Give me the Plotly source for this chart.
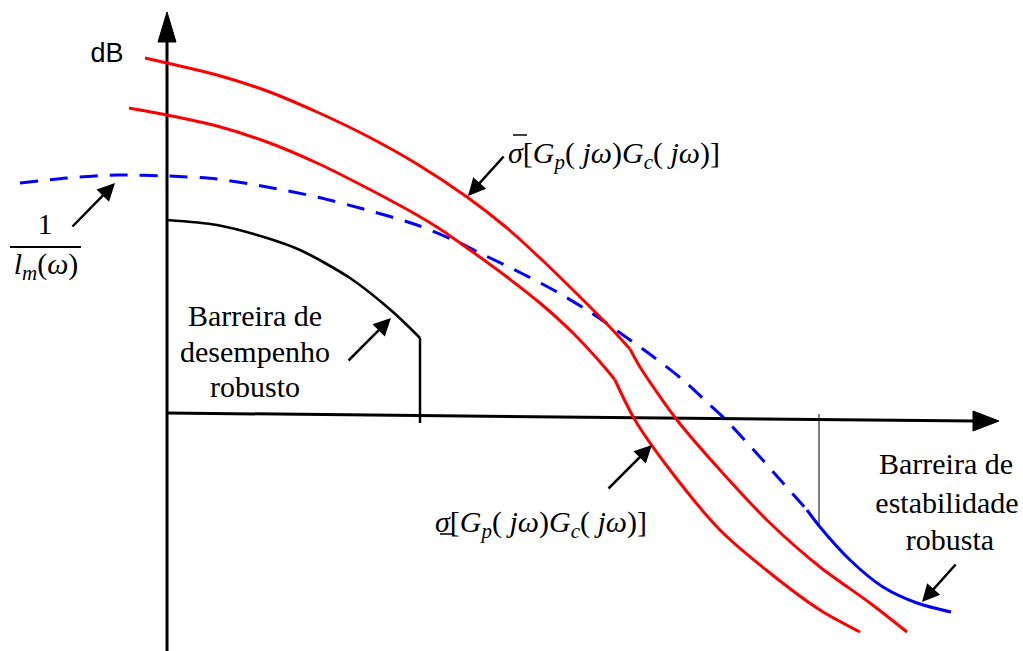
import plotly.graph_objects as go

# Diagram space: x grows to the right (frequency), y grows downward (drawing units).
W, H = 1023, 651

# Singular value curves of the loop G_p(jw)G_c(jw)
sigma_max_a_x = [145, 167, 217, 267, 317, 367, 417, 467, 507, 540, 573, 607, 630]
sigma_max_a_y = [58, 63, 75, 91, 112, 136, 164, 197, 228, 258, 290, 324, 349]
sigma_max_b_x = [630, 640, 677, 720, 770, 820, 870, 907]
sigma_max_b_y = [349, 367, 420, 470, 523, 567, 603, 632]

sigma_min_a_x = [129, 167, 217, 267, 317, 367, 417, 440, 470, 507, 540, 573, 607, 615]
sigma_min_a_y = [108, 115, 126, 142, 163, 188, 215, 229, 250, 277, 303, 333, 370, 380]
sigma_min_b_x = [615, 635, 670, 720, 770, 820, 860]
sigma_min_b_y = [380, 420, 470, 530, 573, 610, 632]

# 1/l_m(w) bound (dashed) and the robust-stability barrier (solid part)
inv_lm_x = [20, 67, 117, 167, 217, 267, 317, 367, 417, 460, 480, 523, 557, 590,
            623, 655, 683, 710, 725, 760, 783, 807]
inv_lm_y = [183, 178, 175, 176, 179, 187, 197, 210, 225, 243, 253, 274, 292, 312,
            335, 358, 380, 405, 419, 457, 483, 510]
stab_x = [807, 820, 850, 883, 917, 951]
stab_y = [510, 527, 560, 587, 603, 612]

# Robust-performance barrier
perf_x = [167, 217, 267, 300, 350, 393, 420]
perf_y = [220, 225, 238, 250, 278, 312, 338]
perf_drop_x = [420, 420]
perf_drop_y = [338, 423]

# Frequency marker separating the stability barrier
marker_x = [819, 819]
marker_y = [414, 526]

# Axes (origin, ends)
h_axis_x = [167, 975]
h_axis_y = [413, 421]
v_axis_x = [167, 167]
v_axis_y = [651, 40]

RED = "#ff0000"
BLUE = "#0000ff"
BLACK = "#000000"
SERIF = "Liberation Serif"
SANS = "Liberation Sans"

fig = go.Figure()


def add_line(x, y, color, width, dash="solid", shape="spline"):
    fig.add_trace(go.Scatter(
        x=x, y=y, mode="lines",
        line=dict(color=color, width=width, dash=dash, shape=shape, smoothing=0.8),
        hoverinfo="skip", showlegend=False))


def add_head(x, y):
    fig.add_trace(go.Scatter(
        x=x, y=y, mode="lines", fill="toself", fillcolor=BLACK,
        line=dict(color=BLACK, width=1), hoverinfo="skip", showlegend=False))


def add_text(x, y, text, size=30, family=SERIF, position="middle center"):
    fig.add_trace(go.Scatter(
        x=[x], y=[y], mode="text", text=[text], textposition=position,
        textfont=dict(family=family, size=size, color=BLACK),
        hoverinfo="skip", showlegend=False))


# Axes
add_line(h_axis_x, h_axis_y, BLACK, 3, shape="linear")
add_line(v_axis_x, v_axis_y, BLACK, 3, shape="linear")

# Axis arrowheads
hx, hy = h_axis_x[1], h_axis_y[1]
add_head([hx - 2, hx + 24, hx - 2, hx - 2], [hy - 10, hy, hy + 10, hy - 10])
vx, vy = v_axis_x[1], v_axis_y[1]
add_head([vx - 9, vx, vx + 9, vx - 9], [vy + 2, vy - 28, vy + 2, vy + 2])

# Curves
add_line(perf_x, perf_y, BLACK, 2.7)
add_line(perf_drop_x, perf_drop_y, BLACK, 2.5, shape="linear")
add_line(marker_x, marker_y, BLACK, 1, shape="linear")
add_line(inv_lm_x, inv_lm_y, BLUE, 3, dash="18px,12px")
add_line(stab_x, stab_y, BLUE, 3)
add_line(sigma_max_a_x, sigma_max_a_y, RED, 3)
add_line(sigma_max_b_x, sigma_max_b_y, RED, 3)
add_line(sigma_min_a_x, sigma_min_a_y, RED, 3)
add_line(sigma_min_b_x, sigma_min_b_y, RED, 3)

# Fraction bar of 1/l_m(w), bar over the max singular value, bar under the min one
add_line([10, 81], [247, 247], BLACK, 2, shape="linear")
add_line([513, 527], [135, 135], BLACK, 1.5, shape="linear")
add_line([440, 453], [534, 534], BLACK, 1.5, shape="linear")

# Labels
LOOP = ('[<i>G</i><sub><i>p</i></sub>( <i>jω</i>)'
        '<i>G</i><sub><i>c</i></sub>( <i>jω</i>)]')

add_text(107, 55, "dB", size=27, family=SANS)
add_text(508, 155, '<i>σ</i>' + LOOP, position="middle right")
add_text(435, 524, '<i>σ</i>' + LOOP, position="middle right")
add_text(45, 226, "1")
add_text(46, 266, '<i>l</i><sub><i>m</i></sub>(<i>ω</i>)')

add_text(255, 318, "Barreira de")
add_text(255, 354, "desempenho")
add_text(255, 389, "robusto")

add_text(946, 466, "Barreira de")
add_text(947, 505, "estabilidade")
add_text(950, 542, "robusta")

# Pointer arrows
annotations = []


def pointer(tail, tip):
    annotations.append(dict(
        x=tip[0], y=tip[1], ax=tail[0], ay=tail[1],
        xref="x", yref="y", axref="x", ayref="y",
        text="", showarrow=True, arrowhead=2, arrowsize=1.4,
        arrowwidth=2.5, arrowcolor=BLACK, standoff=0, startstandoff=0))


pointer((505, 155), (468, 196))
pointer((607, 490), (652, 445))
pointer((71, 228), (115, 183))
pointer((347, 362), (391, 318))
pointer((957, 563), (922, 602))

fig.update_layout(
    width=W, height=H,
    margin=dict(l=0, r=0, t=0, b=0),
    font=dict(family=SERIF, size=30, color=BLACK),
    paper_bgcolor="white", plot_bgcolor="white",
    xaxis=dict(range=[0, W], visible=False, showgrid=False, zeroline=False, fixedrange=True),
    yaxis=dict(range=[H, 0], visible=False, showgrid=False, zeroline=False, fixedrange=True),
    annotations=annotations,
    showlegend=False,
)

fig.write_html("out.html")
